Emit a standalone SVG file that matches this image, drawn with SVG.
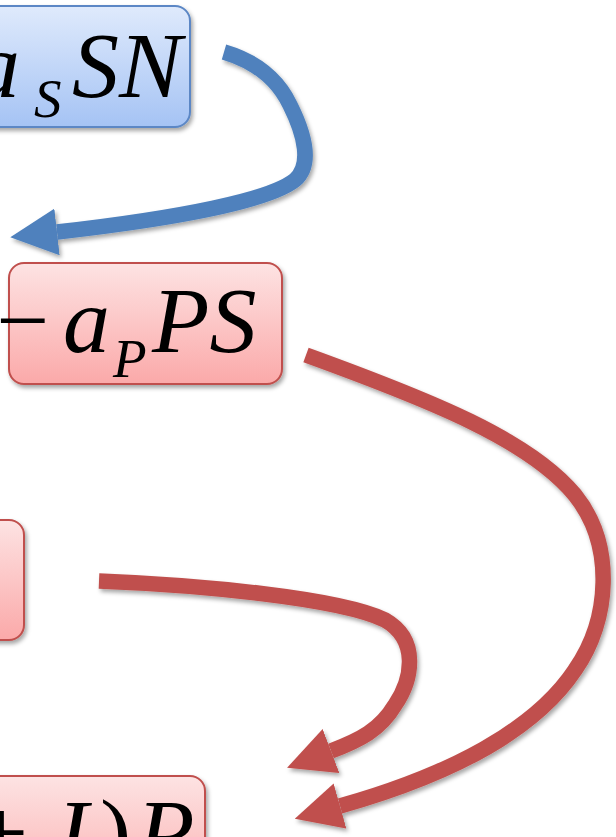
<svg xmlns="http://www.w3.org/2000/svg" width="616" height="837" viewBox="0 0 616 837">
<defs>
  <linearGradient id="gBlue" x1="0" y1="0" x2="0" y2="1">
    <stop offset="0" stop-color="#dfeafc"/>
    <stop offset="1" stop-color="#a5c3f4"/>
  </linearGradient>
  <linearGradient id="gRed" x1="0" y1="0" x2="0" y2="1">
    <stop offset="0" stop-color="#fde3e3"/>
    <stop offset="1" stop-color="#fba9a9"/>
  </linearGradient>
  <filter id="shadow" x="-20%" y="-20%" width="140%" height="140%">
    <feDropShadow dx="2" dy="3" stdDeviation="2" flood-color="#000" flood-opacity="0.35"/>
  </filter>
  <marker id="headBlue" viewBox="0 0 47 47" refX="0" refY="23.5" markerWidth="47" markerHeight="47" markerUnits="userSpaceOnUse" orient="auto">
    <path d="M0,0 L47,23.5 L0,47 z" fill="#4f81bd"/>
  </marker>
  <marker id="headRed" viewBox="0 0 47 47" refX="0" refY="23.5" markerWidth="47" markerHeight="47" markerUnits="userSpaceOnUse" orient="auto">
    <path d="M0,0 L47,23.5 L0,47 z" fill="#c0504d"/>
  </marker>
</defs>
<style>
  .blueBox { fill: url(#gBlue); stroke: #5b87c5; stroke-width: 2; filter: url(#shadow); }
  .redBox { fill: url(#gRed); stroke: #c0504d; stroke-width: 2; filter: url(#shadow); }
  .math { font-family: "Liberation Serif", "Times New Roman", serif; font-size: 94px; fill: #000; }
  .it { font-style: italic; }
  .sub { font-size: 55px; font-style: italic; }
  .conn { fill: none; stroke-width: 15.5; stroke-linejoin: round; filter: url(#shadow); }
  .blue { stroke: #4f81bd; marker-end: url(#headBlue); }
  .red { stroke: #c0504d; marker-end: url(#headRed); }
</style>

<g id="node-aSSN">
  <rect class="blueBox" x="-30" y="6" width="220" height="121" rx="15"/>
  <text class="math"><tspan class="it" x="-27" y="97">a</tspan><tspan class="sub" x="34" y="117">S</tspan><tspan class="it" x="72" y="97">SN</tspan></text>
</g>

<g id="node-aPPS">
  <rect class="redBox" x="9" y="263" width="273" height="121" rx="15"/>
  <text class="math"><tspan x="-4" y="352">−</tspan><tspan class="it" x="63" y="352">a</tspan><tspan class="sub" x="113" y="377">P</tspan><tspan class="it" x="152" y="352">PS</tspan></text>
</g>

<g id="node-mid">
  <rect class="redBox" x="-200" y="520" width="224" height="120" rx="15"/>
</g>

<g id="node-bottom">
  <rect class="redBox" x="-100" y="776" width="305" height="130" rx="15"/>
  <text class="math"><tspan x="-25" y="864">+</tspan><tspan class="it" x="57" y="864">I</tspan><tspan x="100" y="864">)</tspan><tspan class="it" x="137" y="864">P</tspan></text>
</g>

<g id="connectors">
  <path class="conn blue" d="M224,52 C258,62 278,80 290,105 C305,135 312,165 295,180 C270,200 180,218 57,232"/>
  <path class="conn red" d="M306,355 C430,400 530,440 575,495 C615,545 610,620 575,670 C535,730 450,775 340,806"/>
  <path class="conn red" d="M99,581 C200,585 340,598 385,620 C420,640 412,680 395,705 C380,730 360,740 331,751"/>
</g>
</svg>
